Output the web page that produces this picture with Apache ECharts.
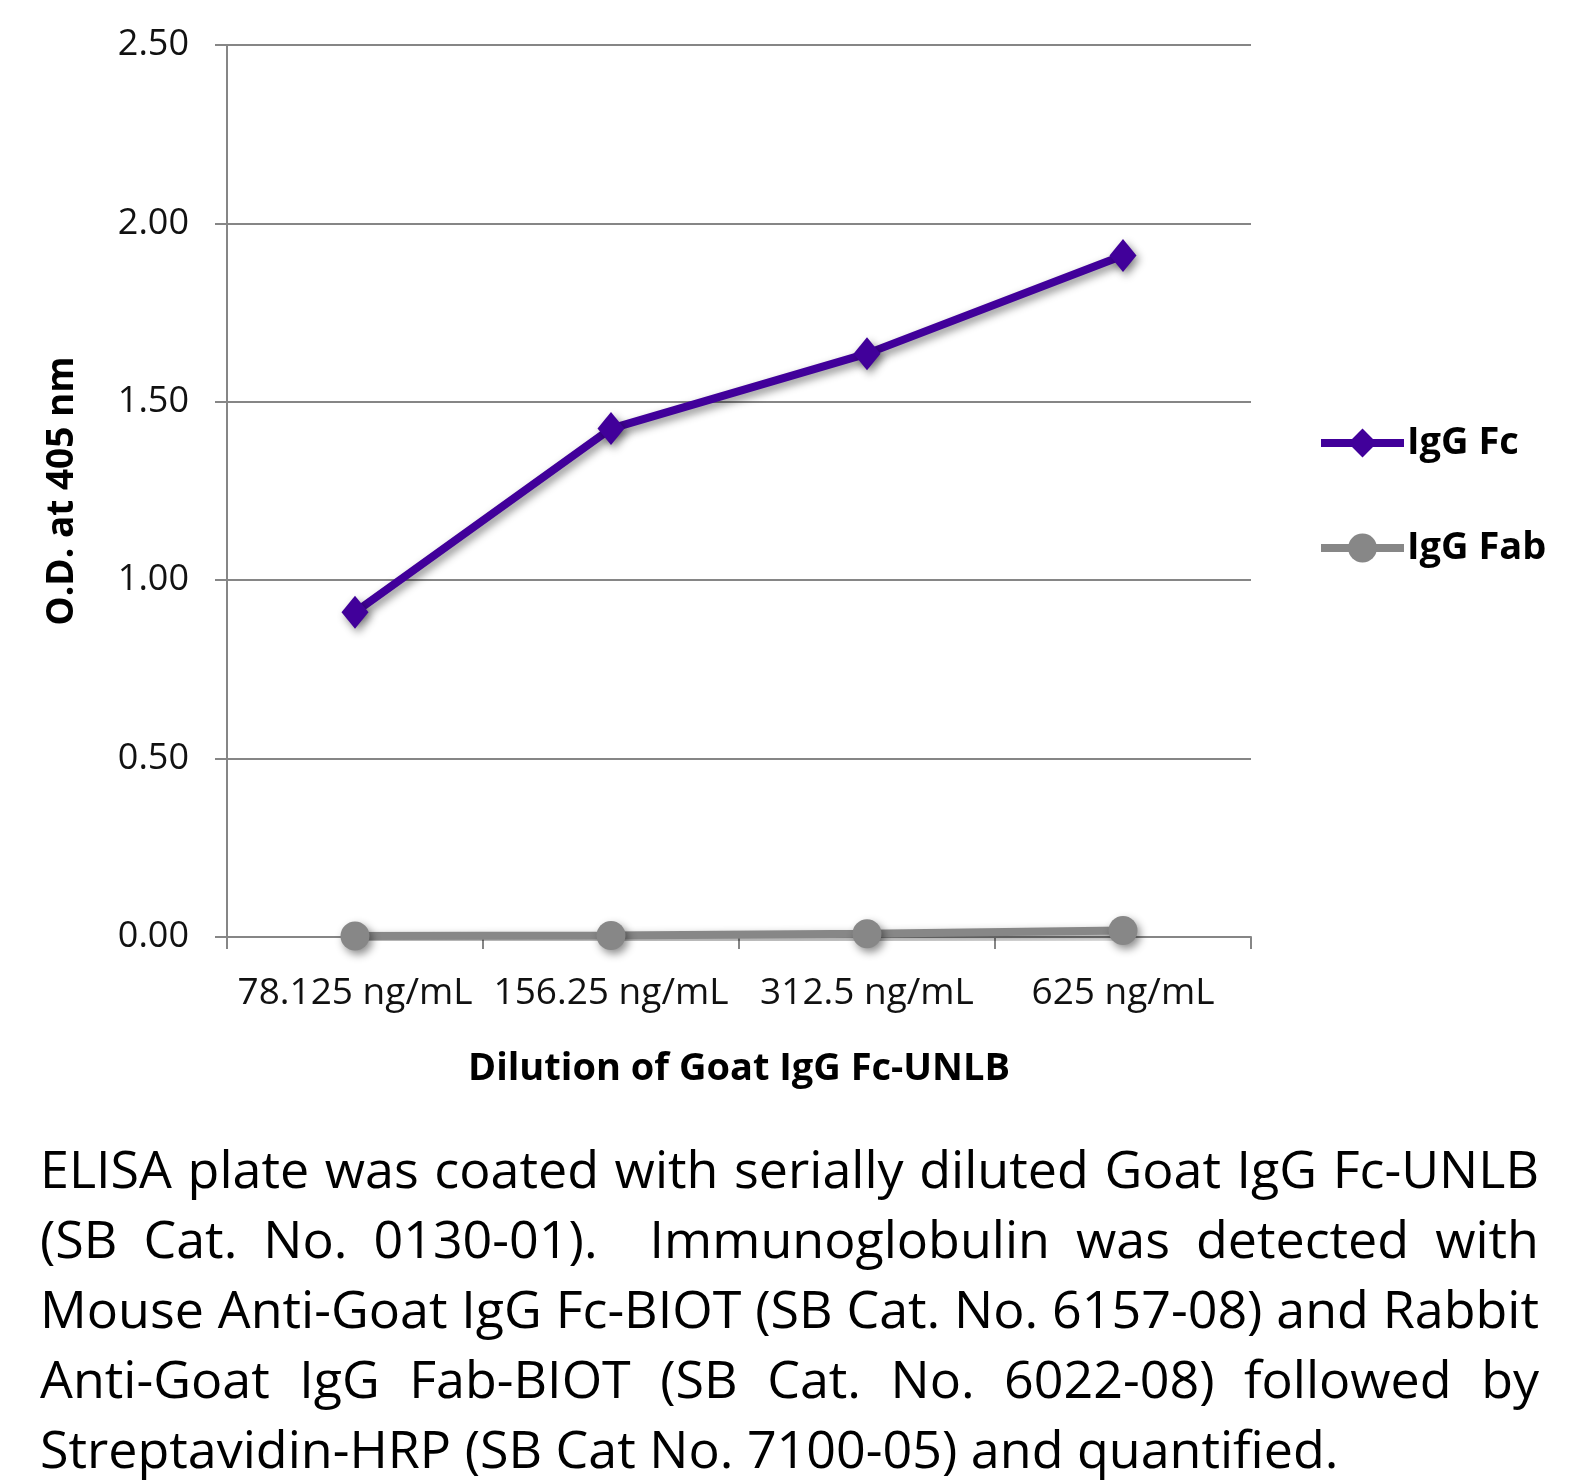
<!DOCTYPE html>
<html>
<head>
<meta charset="utf-8">
<script src="https://cdn.jsdelivr.net/npm/echarts@6/dist/echarts.min.js"></script>
<style>
html,body{margin:0;padding:0;background:#fff;}
#chart{position:absolute;left:0;top:0;width:1588px;height:1481px;}
#caption{position:absolute;left:40px;top:1133px;width:1499px;font-family:"Open Sans",sans-serif;font-size:52px;line-height:70px;color:#000;}
#caption div{text-align:justify;text-align-last:justify;white-space:nowrap;}
#caption div.last{text-align-last:left;}
</style>
</head>
<body>
<div id="chart"></div>
<div id="caption">
<div>ELISA plate was coated with serially diluted Goat IgG Fc-UNLB</div>
<div>(SB Cat. No. 0130-01).&nbsp; Immunoglobulin was detected with</div>
<div>Mouse Anti-Goat IgG Fc-BIOT (SB Cat. No. 6157-08) and Rabbit</div>
<div>Anti-Goat IgG Fab-BIOT (SB Cat. No. 6022-08) followed by</div>
<div class="last">Streptavidin-HRP (SB Cat No. 7100-05) and quantified.</div>
</div>
<script>
const categories = ['78.125 ng/mL', '156.25 ng/mL', '312.5 ng/mL', '625 ng/mL'];
const iggFc = [0.91, 1.425, 1.635, 1.91];
const iggFab = [0.003, 0.004, 0.009, 0.018];
const yTicks = [0, 0.5, 1.0, 1.5, 2.0, 2.5];
const seriesNames = ['IgG Fc', 'IgG Fab'];

const FONT = '"Open Sans", sans-serif';
const GRAY = '#868686';
const chart = echarts.init(document.getElementById('chart'), null, {renderer: 'canvas'});
const shadow = {shadowColor: 'rgba(0,0,0,0.45)', shadowBlur: 8, shadowOffsetX: 3, shadowOffsetY: 4};

chart.setOption({
  animation: false,
  backgroundColor: '#fff',
  grid: {left: 227, right: 337, top: 45, bottom: 544, containLabel: false},
  legend: {
    orient: 'vertical',
    left: 1312,
    top: 418,
    itemWidth: 83,
    itemHeight: 36,
    itemGap: 65,
    data: seriesNames,
    lineStyle: {width: 8, shadowBlur: 0, shadowOffsetX: 0, shadowOffsetY: 0},
    itemStyle: {shadowBlur: 0, shadowOffsetX: 0, shadowOffsetY: 0},
    textStyle: {fontFamily: FONT, fontSize: 38, fontWeight: 'bold', color: '#000', lineHeight: 40, padding: [0, 0, 0, -2]}
  },
  xAxis: {
    type: 'category',
    data: categories,
    boundaryGap: true,
    name: 'Dilution of Goat IgG Fc-UNLB',
    nameLocation: 'middle',
    nameGap: 113,
    nameTextStyle: {fontFamily: FONT, fontSize: 38, fontWeight: 'bold', color: '#000'},
    axisLine: {show: true, lineStyle: {color: GRAY, width: 2}},
    axisTick: {show: true, length: 12, alignWithLabel: false, lineStyle: {color: GRAY, width: 2}},
    axisLabel: {fontFamily: FONT, fontSize: 37, color: '#111', margin: 38, interval: 0}
  },
  yAxis: {
    type: 'value',
    min: yTicks[0],
    max: yTicks[yTicks.length - 1],
    interval: 0.5,
    name: 'O.D. at 405 nm',
    nameLocation: 'middle',
    nameGap: 146,
    nameRotate: 90,
    nameTextStyle: {fontFamily: FONT, fontSize: 37, fontWeight: 'bold', color: '#000'},
    axisLine: {show: true, lineStyle: {color: GRAY, width: 2}},
    axisTick: {show: true, length: 12, lineStyle: {color: GRAY, width: 2}},
    axisLabel: {fontFamily: FONT, fontSize: 36, color: '#111', margin: 38, formatter: v => v.toFixed(2)},
    splitLine: {show: true, lineStyle: {color: GRAY, width: 2}}
  },
  series: [
    {
      name: seriesNames[0],
      type: 'line',
      data: iggFc,
      symbol: 'diamond',
      symbolSize: [27, 33],
      color: '#41009a',
      lineStyle: Object.assign({width: 8, color: '#41009a'}, shadow),
      itemStyle: Object.assign({color: '#41009a'}, shadow),
      z: 3
    },
    {
      name: seriesNames[1],
      type: 'line',
      data: iggFab,
      symbol: 'circle',
      symbolSize: 29,
      color: '#878787',
      lineStyle: Object.assign({width: 8, color: '#878787'}, shadow),
      itemStyle: Object.assign({color: '#878787'}, shadow),
      z: 2
    }
  ]
});
</script>
</body>
</html>
